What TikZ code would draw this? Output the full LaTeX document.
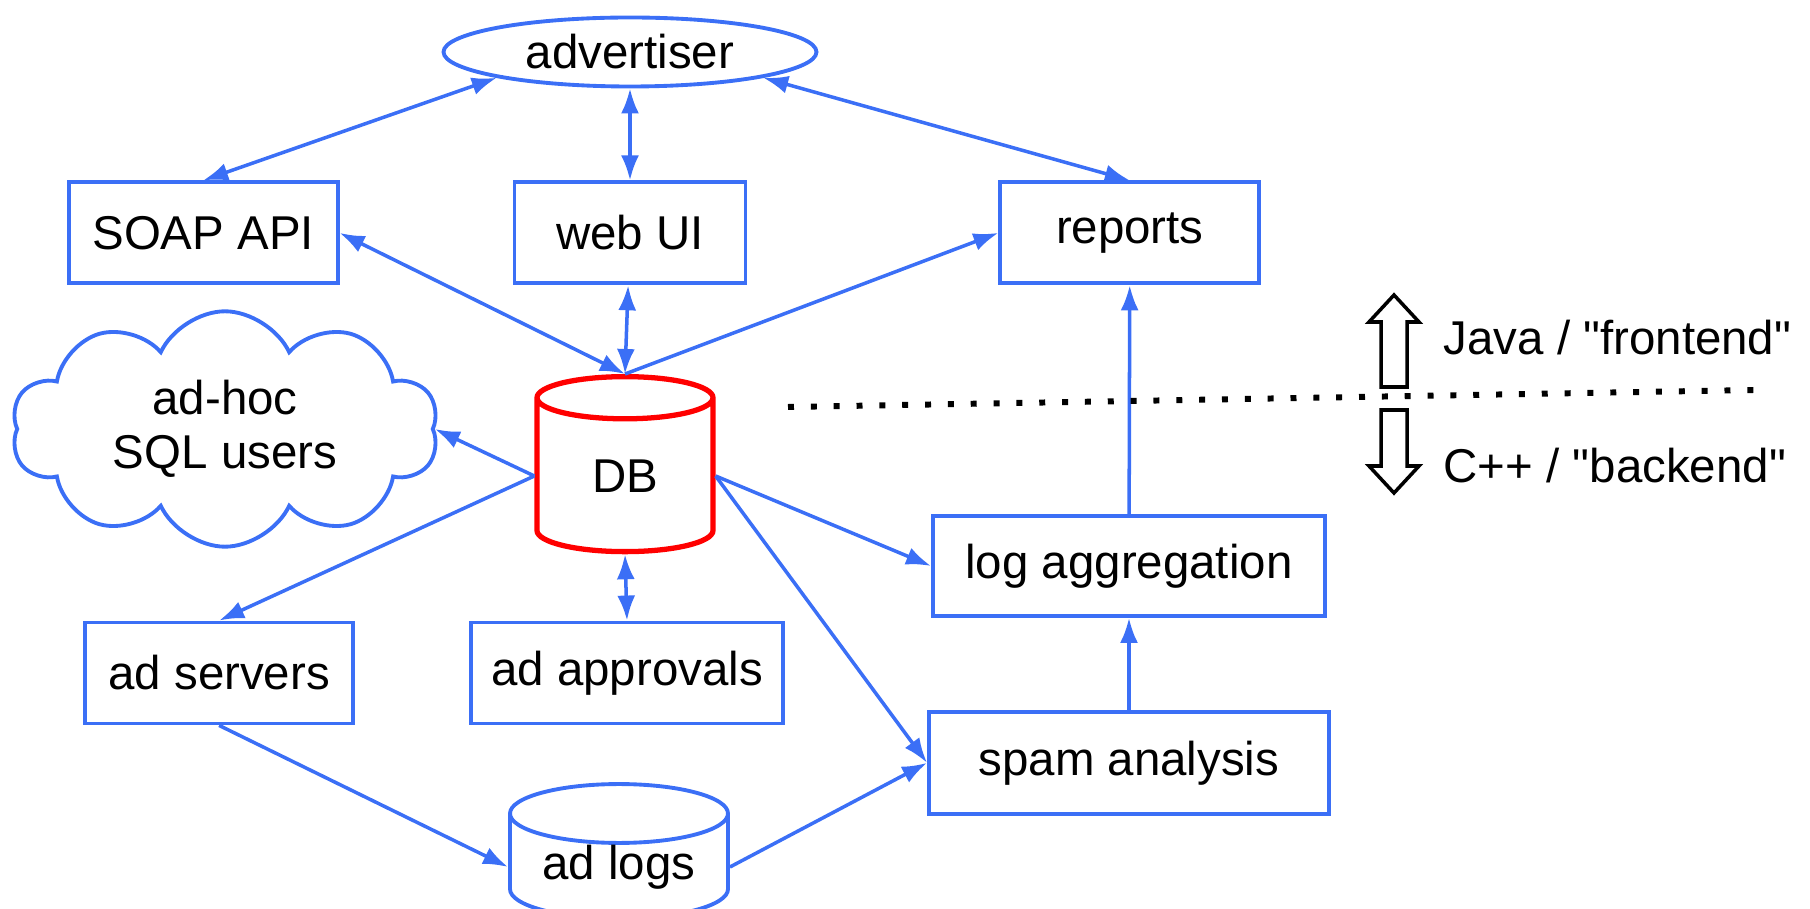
\documentclass[tikz,border=0pt]{standalone}
\usepackage{fontspec}
\setmainfont{Liberation Sans}
\usetikzlibrary{positioning, arrows.meta, shapes.geometric, shapes.symbols}
\definecolor{linkblue}{RGB}{59,111,246}
\definecolor{dbred}{RGB}{255,0,0}

\begin{document}
\begin{tikzpicture}[
	x=0.1mm, y=-0.1mm,
	font=\fontsize{13.5}{15.4}\selectfont,
	% Define styles
	box/.style={rectangle, draw=linkblue, line width=1.1pt, minimum height=10.1mm, inner sep=0pt},
	actor/.style={ellipse, draw=linkblue, line width=1.1pt, minimum width=37.3mm, minimum height=6.9mm, inner sep=0pt},
	store/.style={cylinder, shape border rotate=90, draw=linkblue, line width=1.1pt, inner sep=0pt},
	users/.style={cloud, cloud puffs=10, cloud puff arc=130, aspect=2, draw=linkblue, line width=1.1pt, align=center, minimum width=42.7mm, minimum height=21.6mm},
	link/.style={-{Latex[length=2.5mm, width=1.8mm]}, line width=1pt, linkblue},
	twoway/.style={{Latex[length=2.5mm, width=1.8mm]}-{Latex[length=2.5mm, width=1.8mm]}, line width=1pt, linkblue},
	tierarrow/.style={draw=black, line width=1pt, fill=white},
	tierline/.style={line width=1.7pt, dash pattern=on 1.7pt off 4.8pt}
	]
	\useasboundingbox (0,0) rectangle (1810,909);
	
	% 1. Frontend
	\node[actor] (advertiser) at (630,52) {advertiser};
	\node[box, minimum width=23.1mm, below=9.2mm of advertiser] (webui) {web UI};
	\node[box, minimum width=26.9mm, left=17.3mm of webui] (soap) {SOAP API};
	\node[box, minimum width=25.9mm, right=25.1mm of webui] (reports) {reports};
	
	% 2. Database and its users
	\node[store, draw=dbred, line width=1.5pt, aspect=0.64, minimum width=17.6mm, minimum height=17.5mm] (db) at (625,476) {DB};
	\node[users] (sqlusers) at (225,429) {ad-hoc\\SQL users};
	\node[box, minimum width=31.2mm] (approvals) at (627,673) {ad approvals};
	\node[box, minimum width=26.8mm, left=11.4mm of approvals] (adservers) {ad servers};
	\node[store, aspect=0.385, minimum width=21.8mm, minimum height=10.6mm] (adlogs) at (619,867) {ad logs};
	
	% 3. Backend pipeline
	\node[box, minimum width=39.2mm, minimum height=10mm] (logagg) at (1129,566) {log aggregation};
	\node[box, minimum width=40mm, minimum height=10.2mm, below=9.2mm of logagg] (spam) {spam analysis};
	
	% Connectors
	\draw[twoway] (advertiser.south west) -- (soap.north);
	\draw[twoway] (advertiser) -- (webui);
	\draw[twoway] (advertiser.south east) -- (reports.north);
	\draw[twoway] (soap.east) -- (db.north);
	\draw[twoway] (webui) -- (db.north);
	\draw[link] (db.north) -- (reports.west);
	\draw[link] (db.west) -- (sqlusers.east);
	\draw[link] (db.west) -- (adservers.north);
	\draw[twoway] (db.south) -- (approvals.north);
	\draw[link] (db.east) -- (logagg.west);
	\draw[link] (db.east) -- (spam.west);
	\draw[link] (adservers.south) -- (adlogs.west);
	\draw[link] (adlogs.east) -- (spam.west);
	\draw[link] (spam) -- (logagg);
	\draw[link] (logagg) -- (reports);
	
	% 4. Java / C++ split
	\coordinate (splitL) at (788,407);
	\coordinate (splitR) at (1754,390);
	\draw[tierline] (splitL) -- (splitR);
	
	\coordinate (upbase) at (1394,387);
	\coordinate (downbase) at (1394,410);
	\draw[tierarrow] (upbase) ++(-13,0) -- ++(0,-65) -- ++(-12,0) -- ++(25,-27) -- ++(25,27) -- ++(-12,0) -- ++(0,65) -- cycle;
	\draw[tierarrow] (downbase) ++(-13,0) -- ++(0,56) -- ++(-12,0) -- ++(25,27) -- ++(25,-27) -- ++(-12,0) -- ++(0,-56) -- cycle;
	\node[anchor=west, inner sep=0pt] (javalabel) at (1443,338) {Java / \textquotedbl frontend\textquotedbl};
	\node[anchor=west, inner sep=0pt] (cpplabel) at (1443,466) {C++ / \textquotedbl backend\textquotedbl};
\end{tikzpicture}
\end{document}
